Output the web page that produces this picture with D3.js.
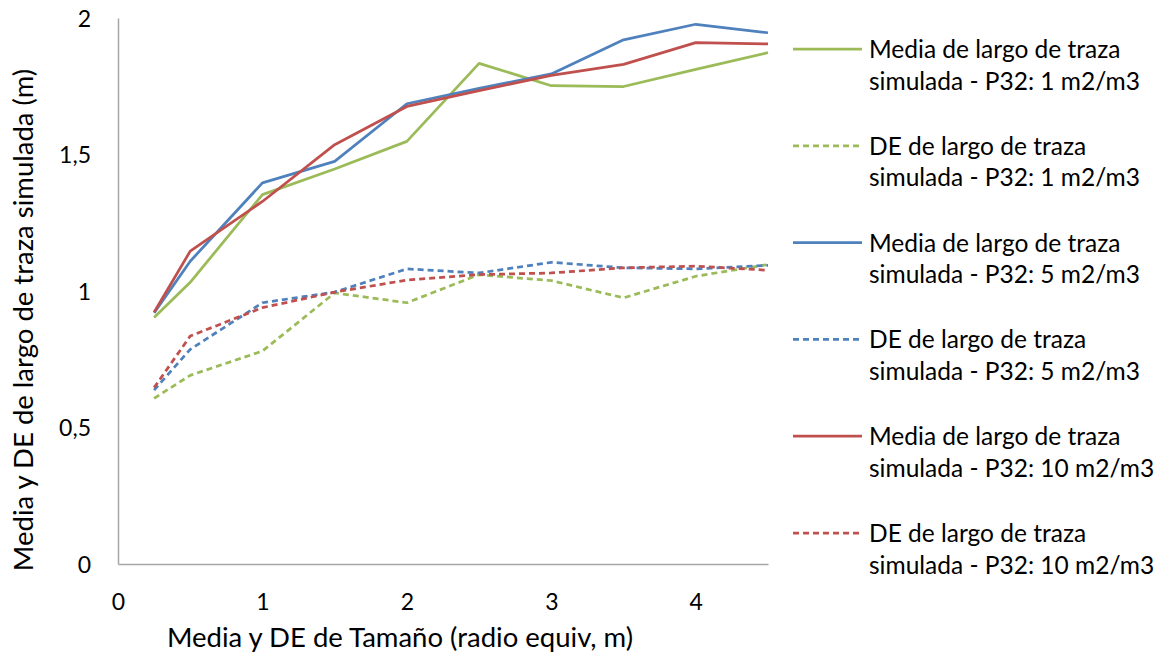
<!DOCTYPE html>
<html>
<head>
<meta charset="utf-8">
<script src="https://cdn.jsdelivr.net/npm/d3@7"></script>
<style>
  html, body { margin: 0; padding: 0; background: #fff; }
  svg { display: block; font-family: Lato, "Open Sans", sans-serif; }
</style>
</head>
<body>
<svg id="chart" width="1162" height="655"></svg>
<script>
const xValues = [0.25, 0.5, 1, 1.5, 2, 2.5, 3, 3.5, 4, 4.5];
const media1  = [0.903, 1.032, 1.353, 1.447, 1.548, 1.834, 1.752, 1.749, 1.812, 1.873];
const de1     = [0.607, 0.691, 0.780, 0.993, 0.957, 1.060, 1.038, 0.975, 1.054, 1.097];
const media5  = [0.920, 1.109, 1.396, 1.475, 1.686, 1.742, 1.795, 1.920, 1.977, 1.946];
const de5     = [0.637, 0.786, 0.957, 0.996, 1.081, 1.066, 1.105, 1.085, 1.081, 1.094];
const media10 = [0.922, 1.146, 1.328, 1.536, 1.676, 1.734, 1.790, 1.830, 1.910, 1.905];
const de10    = [0.646, 0.835, 0.939, 0.996, 1.040, 1.060, 1.066, 1.085, 1.091, 1.076];
const seriesNames = [
  ["Media de largo de traza", "simulada - P32: 1 m2/m3"],
  ["DE de largo de traza", "simulada - P32: 1 m2/m3"],
  ["Media de largo de traza", "simulada - P32: 5 m2/m3"],
  ["DE de largo de traza", "simulada - P32: 5 m2/m3"],
  ["Media de largo de traza", "simulada - P32: 10 m2/m3"],
  ["DE de largo de traza", "simulada - P32: 10 m2/m3"]
];
const xTicks = [0, 1, 2, 3, 4];
const yTicks = [0, 0.5, 1, 1.5, 2];
const xTitle = "Media y DE de Tamaño (radio equiv, m)";
const yTitle = "Media y DE de largo de traza simulada (m)";

const series = [
  {values: media1, color: "#9BBB59", dashed: false},
  {values: de1, color: "#9BBB59", dashed: true},
  {values: media5, color: "#4F81BD", dashed: false},
  {values: de5, color: "#4F81BD", dashed: true},
  {values: media10, color: "#C0504D", dashed: false},
  {values: de10, color: "#C0504D", dashed: true}
];

const svg = d3.select("#chart");
const pLeft = 118, pRight = 768, pTop = 18, pBottom = 564;
const x = d3.scaleLinear().domain([0, 4.5]).range([pLeft, pRight]);
const y = d3.scaleLinear().domain([0, 2]).range([pBottom, pTop]);

// axes
const fmt = d => String(d).replace(".", ",");
const xAxis = svg.append("g").attr("transform", `translate(0,${pBottom})`)
  .call(d3.axisBottom(x).tickValues(xTicks).tickSize(0).tickPadding(34).tickFormat(fmt));
const yAxis = svg.append("g").attr("transform", `translate(${pLeft},0)`)
  .call(d3.axisLeft(y).tickValues(yTicks).tickSize(0).tickPadding(27).tickFormat(fmt));
[xAxis, yAxis].forEach(g => {
  g.select(".domain").attr("stroke", "#A6A6A6").attr("stroke-width", 1.5);
  g.selectAll("text").attr("font-family", "Lato, sans-serif").attr("font-size", 23).attr("fill", "#000");
});
yAxis.selectAll("text").attr("dy", "0.35em");
xAxis.selectAll("text").attr("dy", "0.5em");

// lines
const line = d3.line().x((d, i) => x(xValues[i])).y(d => y(d));
series.forEach(s => {
  svg.append("path").datum(s.values)
    .attr("fill", "none")
    .attr("stroke", s.color)
    .attr("stroke-width", 2.75)
    .attr("stroke-linejoin", "round")
    .attr("stroke-dasharray", s.dashed ? "6,4" : null)
    .attr("d", line);
});

// titles
svg.append("text").attr("x", 400).attr("y", 647).attr("text-anchor", "middle")
  .attr("font-size", 27.5).attr("fill", "#000").text(xTitle);
svg.append("text").attr("transform", "translate(33,320) rotate(-90)").attr("text-anchor", "middle")
  .attr("font-size", 27.5).attr("fill", "#000").text(yTitle);

// legend
const leg = svg.append("g");
series.forEach((s, i) => {
  const cy = 49 + i * 96.8;
  leg.append("line").attr("x1", 793).attr("x2", 862).attr("y1", cy).attr("y2", cy)
    .attr("stroke", s.color).attr("stroke-width", 2.75)
    .attr("stroke-dasharray", s.dashed ? "6,4" : null);
  seriesNames[i].forEach((t, j) => {
    leg.append("text").attr("x", 869).attr("y", cy + 9 + j * 31.5)
      .attr("font-size", 24.5).attr("fill", "#000").text(t);
  });
});
</script>
</body>
</html>
